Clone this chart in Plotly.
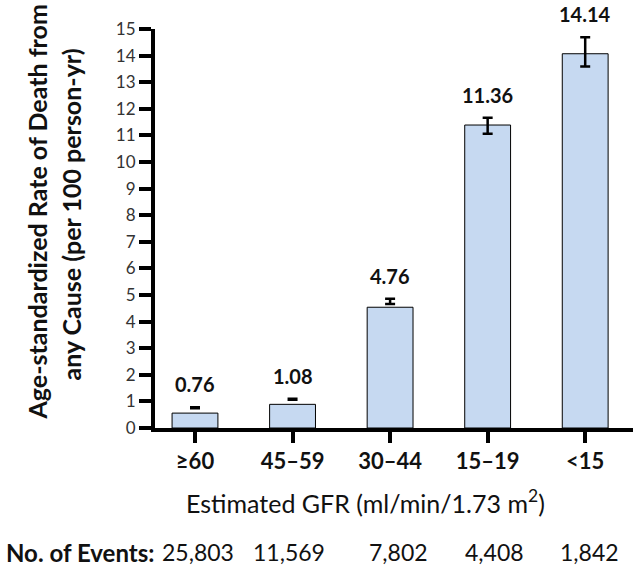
import plotly.graph_objects as go

# ---- data ----
categories = ["≥60", "45–59", "30–44", "15–19", "<15"]
bar_heights = [0.56, 0.89, 4.54, 11.39, 14.07]          # drawn bar heights
rate_values = [0.76, 1.08, 4.76, 11.36, 14.14]          # labelled age-standardized rates
rate_errors = [0.02, 0.02, 0.10, 0.30, 0.55]            # error bar half-widths
rate_labels = ["0.76", "1.08", "4.76", "11.36", "14.14"]
event_counts = ["25,803", "11,569", "7,802", "4,408", "1,842"]
y_ticks = list(range(0, 16))

# ---- layout helpers ----
PLOT_L, PLOT_W = 155, 478
def px_to_paper_x(px):
    return (px - PLOT_L) / PLOT_W

event_px = [198, 289, 398, 494, 589]
FONT = "Lato"
xs = list(range(len(categories)))

fig = go.Figure()
fig.add_trace(go.Bar(
    x=xs, y=bar_heights, width=0.47,
    marker=dict(color="#c6d9f1", line=dict(color="black", width=1)),
    hoverinfo="skip", showlegend=False,
))
fig.add_trace(go.Scatter(
    x=xs, y=rate_values, mode="markers",
    marker=dict(size=1, opacity=0),
    error_y=dict(type="data", array=rate_errors, visible=True,
                 color="black", thickness=2.5, width=5),
    hoverinfo="skip", showlegend=False, cliponaxis=False,
))

for i, (v, e, t) in enumerate(zip(rate_values, rate_errors, rate_labels)):
    fig.add_annotation(x=i, y=v + e, text="<b>%s</b>" % t, showarrow=False,
                       yanchor="bottom", yshift=9,
                       font=dict(family=FONT, size=20, color="#111"))

# y title (two lines)
fig.add_annotation(x=px_to_paper_x(37), xref="paper", y=0.54, yref="paper",
                   text="<b>Age-standardized Rate of Death from</b>",
                   textangle=-90, showarrow=False, xanchor="center", yanchor="middle",
                   font=dict(family=FONT, size=25, color="#111"))
fig.add_annotation(x=px_to_paper_x(71), xref="paper", y=0.535, yref="paper",
                   text="<b>any Cause (per 100 person-yr)</b>",
                   textangle=-90, showarrow=False, xanchor="center", yanchor="middle",
                   font=dict(family=FONT, size=25, color="#111"))

# x title
fig.add_annotation(x=px_to_paper_x(365), xref="paper", y=-0.183, yref="paper",
                   text="Estimated GFR (ml/min/1.73 m<sup>2</sup>)", showarrow=False,
                   xanchor="center", yanchor="middle",
                   font=dict(family=FONT, size=25, color="#111"))

# events row
fig.add_annotation(x=px_to_paper_x(4), xref="paper", y=-0.311, yref="paper",
                   text="<b>No. of Events:</b>", showarrow=False,
                   xanchor="left", yanchor="middle",
                   font=dict(family=FONT, size=24, color="#111"))
for px, c in zip(event_px, event_counts):
    fig.add_annotation(x=px_to_paper_x(px), xref="paper", y=-0.311, yref="paper", text=c,
                       showarrow=False, xanchor="center", yanchor="middle",
                       font=dict(family=FONT, size=23, color="#111"))

fig.update_layout(
    width=638, height=570,
    margin=dict(l=PLOT_L, r=5, t=29, b=142),
    plot_bgcolor="white", paper_bgcolor="white",
    showlegend=False,
    xaxis=dict(range=[-0.41, 4.49], tickmode="array", tickvals=xs,
               ticktext=["<b>%s</b>" % c for c in categories],
               showline=True, linewidth=4, linecolor="black",
               ticks="outside", ticklen=11, tickwidth=4, tickcolor="black",
               showgrid=False, zeroline=False,
               tickfont=dict(family=FONT, size=22, color="#111")),
    yaxis=dict(range=[0, 15], tickmode="array", tickvals=y_ticks,
               showline=True, linewidth=4, linecolor="black",
               ticks="outside", ticklen=12, tickwidth=4, tickcolor="black",
               showgrid=False, zeroline=False,
               tickfont=dict(family=FONT, size=17, color="#333")),
)

fig.write_html("out.html", config={"displayModeBar": False},
               post_script="document.body.style.margin='0';document.body.style.overflow='hidden';")
